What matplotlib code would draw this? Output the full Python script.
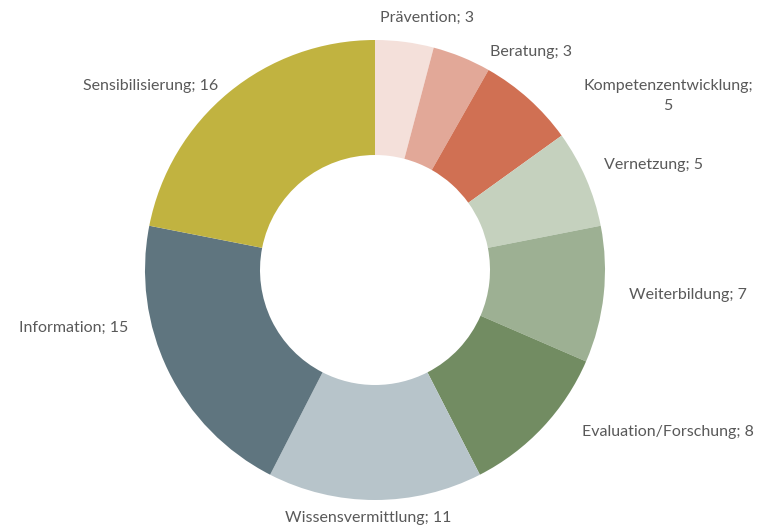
import matplotlib
matplotlib.use("Agg")
import matplotlib.pyplot as plt

categories = [
    "Prävention", "Beratung", "Kompetenzentwicklung", "Vernetzung",
    "Weiterbildung", "Evaluation/Forschung", "Wissensvermittlung",
    "Information", "Sensibilisierung",
]
values = [3, 3, 5, 5, 7, 8, 11, 15, 16]
colors = [
    "#F4E0DA", "#E2A898", "#D07053", "#C5D1BE", "#9DB093",
    "#728C62", "#B7C4CA", "#5F757F", "#C1B340",
]

# label anchor points in pixels (Excel "best fit" placement)
label_px = [
    (427, 18), (531, 52), (668, 96), (653, 165), (688, 295),
    (668, 432), (368, 518), (74, 328), (151, 86),
]
wrap = {"Kompetenzentwicklung": "\n"}

W, H = 763, 531
CX, CY, R = 375, 270, 230

fig = plt.figure(figsize=(W / 100, H / 100), dpi=100)
ax = fig.add_axes([0, 0, 1, 1])
ax.pie(values, colors=colors, startangle=90, counterclock=False,
       radius=1, wedgeprops=dict(width=0.5, linewidth=0))
ax.set_xlim(-CX / R, (W - CX) / R)
ax.set_ylim(-(H - CY) / R, CY / R)
ax.set_aspect("equal")
ax.axis("off")

for cat, val, (px, py) in zip(categories, values, label_px):
    sep = wrap.get(cat, " ")
    ax.text((px - CX) / R, (CY - py) / R, f"{cat};{sep}{val}",
            ha="center", va="center", fontsize=11.5, color="#595959",
            family="Lato", linespacing=1.55)

fig.savefig("out.png", dpi=100)
